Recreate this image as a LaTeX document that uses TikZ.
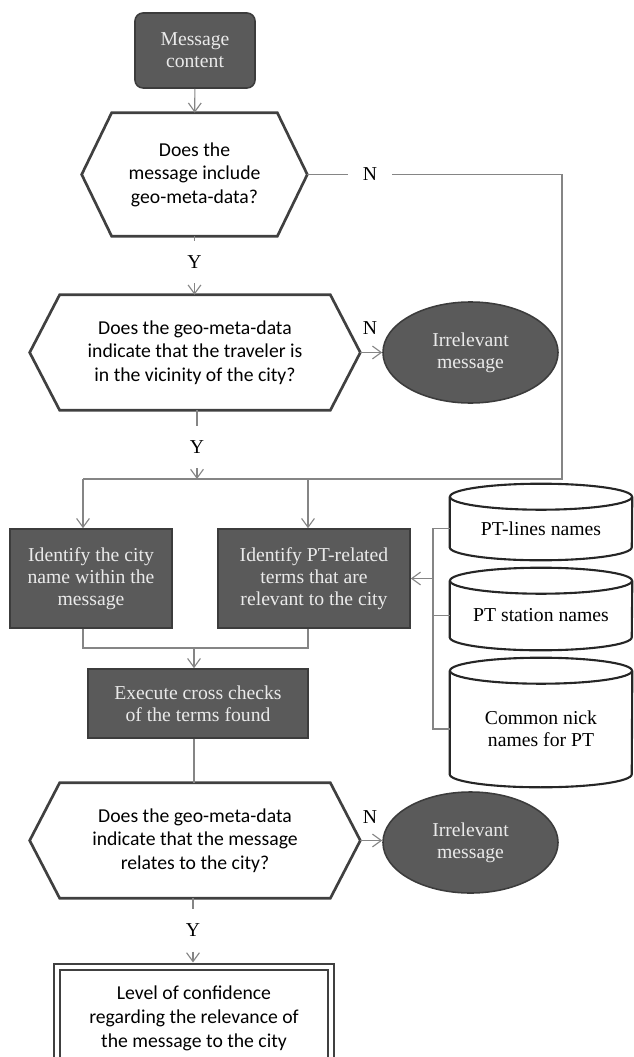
\documentclass[tikz,border=0pt]{standalone}
\usepackage{fontspec}
\setmainfont{Liberation Serif}
\newfontfamily\calibrifont{Carlito}
\usetikzlibrary{shapes.geometric,arrows.meta}
\definecolor{darkbox}{HTML}{5A5A5A}
\definecolor{boxline}{HTML}{3C3C3C}
\definecolor{hexgray}{HTML}{404040}
\definecolor{linkgray}{HTML}{858585}
\definecolor{lighttext}{HTML}{EAEAEA}
\begin{document}
\begin{tikzpicture}[x=0.025cm,y=-0.025cm]
	\def \busx{433}
	\def \sidex{562}
	\def \splitlevel{479}
	\def \mergelevel{648}
	\def \hexframe#1{\draw[hexline] ([xshift=0.75cm]#1.north west) -- ([xshift=-0.75cm]#1.north east) -- (#1.east) -- ([xshift=-0.75cm]#1.south east) -- ([xshift=0.75cm]#1.south west) -- (#1.west) -- cycle;}
	\def \dbframe#1{\draw[dbline] (#1.north) ellipse (2.275cm and 0.325cm);
		\draw[dbline] (#1.north west) -- ([yshift=0.325cm]#1.south west) arc (180:360:2.275cm and 0.325cm) -- (#1.north east);}

	\tikzstyle{d-node}=[rectangle,draw=boxline,fill=darkbox,line width=1.1pt,text=lighttext,align=center,font=\fontsize{14}{15.5}\selectfont]
	\tikzstyle{m-node}=[d-node,rounded corners=0.2cm,minimum width=3cm,minimum height=1.875cm]
	\tikzstyle{irr-node}=[ellipse,draw=boxline,fill=darkbox,line width=1.1pt,text=lighttext,align=center,inner sep=0pt,minimum width=4.375cm,minimum height=2.525cm,font=\fontsize{14}{15.5}\selectfont]
	\tikzstyle{q-node}=[rectangle,inner sep=0pt,align=center,font=\calibrifont\fontsize{14}{16.8}\selectfont]
	\tikzstyle{hexline}=[draw=hexgray,line width=1.9pt]
	\tikzstyle{db-node}=[rectangle,inner sep=0pt,minimum width=4.55cm,align=center,font=\fontsize{14}{15.5}\selectfont]
	\tikzstyle{dbline}=[draw=black!85,line width=1.5pt]
	\tikzstyle{f-node}=[rectangle,draw=hexgray,double,line width=1.4pt,double distance=2.4pt,align=center,minimum width=6.85cm,minimum height=2.575cm,font=\calibrifont\fontsize{14}{17}\selectfont]
	\tikzstyle{yn}=[inner sep=10.5pt,font=\fontsize{14}{15.5}\selectfont]
	\tikzstyle{conn-line}=[draw=linkgray,line width=0.8pt]
	\tikzstyle{conn-arrow}=[conn-line,-{Straight Barb[length=2.2mm,width=3.2mm]}]

	\useasboundingbox (0,0) rectangle (633,1057);

	% top part
	\node[m-node] (msg) at (195,50.5) {Message\\content};
	\node[q-node,minimum width=5.625cm,minimum height=3.075cm] (q1) at (194.5,174.5) {Does the\\message include\\geo-meta-data?};
	\hexframe{q1}
	\node[yn] (n1) at (370,174.5) {N};
	\node[yn] (y1) at (194.5,262) {Y};

	\node[q-node,minimum width=8.25cm,minimum height=2.875cm] (q2) at (195,352.5) {Does the geo-meta-data\\indicate that the traveler is\\in the vicinity of the city?};
	\hexframe{q2}
	\node[irr-node] (irr1) at (470.5,352.5) {Irrelevant\\message};
	\node[yn] (n2) at (370,328) {N};
	\node[yn] (y2) at (197,447) {Y};

	% split
	\coordinate (jl) at (83,\splitlevel);
	\coordinate (jm) at (308,\splitlevel);
	\coordinate (jr) at (\sidex,\splitlevel);
	\coordinate (merge) at (194,\mergelevel);
	\coordinate (bus) at (\busx,578.5);

	\node[d-node,minimum width=4.05cm,minimum height=2.475cm] (city) at (91,578.5) {Identify the city\\name within the\\message};
	\node[d-node,minimum width=4.8cm,minimum height=2.475cm] (terms) at (314,578.5) {Identify PT-related\\terms that are\\relevant to the city};
	\node[d-node,minimum width=5.5cm,minimum height=1.725cm] (exec) at (198,703.5) {Execute cross checks\\of the terms found};

	% databases
	\node[db-node,minimum height=1.575cm] (db1) at (541,528.5) {PT-lines names};
	\dbframe{db1}
	\node[db-node,minimum height=1.725cm] (db2) at (541,615.5) {PT station names};
	\dbframe{db2}
	\node[db-node,minimum height=2.9cm] (db3) at (541,729) {Common nick\\names for PT};
	\dbframe{db3}

	% bottom part
	\node[q-node,minimum width=8.25cm,minimum height=2.875cm] (q3) at (195,840.5) {Does the geo-meta-data\\indicate that the message\\relates to the city?};
	\hexframe{q3}
	\node[irr-node] (irr2) at (470.5,842.5) {Irrelevant\\message};
	\node[yn] (n3) at (370,817) {N};
	\node[yn] (y3) at (193,930) {Y};
	\node[f-node] (final) at (194,1018.5) {Level of confidence\\regarding the relevance of\\the message to the city};

	% connectors
	\draw[conn-arrow] (msg) -- (q1);
	\draw[conn-line] (q1.south -| y1) -- (y1);
	\draw[conn-arrow] (y1) -- (y1 |- q2.north);
	\draw[conn-line] (q1.east) -- (n1);
	\draw[conn-line] (n1) -| (jr) -- (jl);
	\draw[conn-arrow] (q2.east) -- (irr1.west);
	\draw[conn-line] (q2.south -| y2) -- (y2);
	\draw[conn-arrow] (y2) -- (y2 |- jl);
	\draw[conn-arrow] (jl) -- (jl |- city.north);
	\draw[conn-arrow] (jm) -- (jm |- terms.north);
	\draw[conn-line] (jl |- city.south) -- (jl |- merge) -- (jm |- merge) -- (jm |- terms.south);
	\draw[conn-arrow] (merge) -- (merge |- exec.north);
	\draw[conn-line] (db1.west) -- (db1.west -| bus) -- (db3.west -| bus) -- (db3.west);
	\draw[conn-line] (db2.west) -- (db2.west -| bus);
	\draw[conn-arrow] (bus) -- (terms.east);
	\draw[conn-line] (merge |- exec.south) -- (merge |- q3.north);
	\draw[conn-arrow] (q3.east) -- (q3.east -| irr2.west);
	\draw[conn-line] (q3.south -| y3) -- (y3);
	\draw[conn-arrow,shorten >=2.5pt] (y3) -- (y3 |- final.north);
\end{tikzpicture}
\end{document}
